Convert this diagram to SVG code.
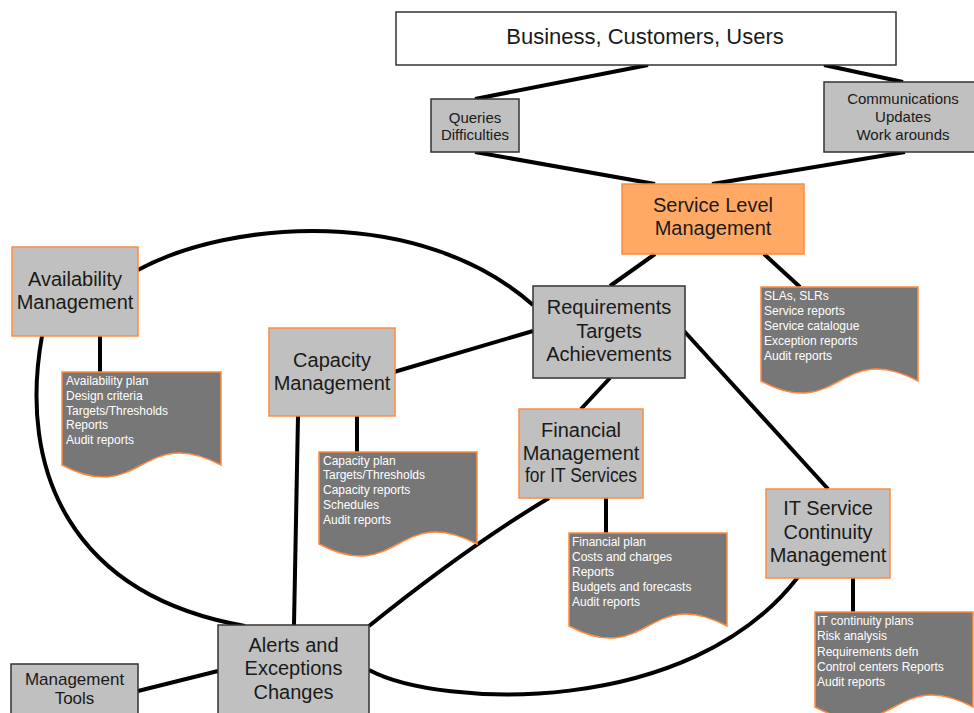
<svg xmlns="http://www.w3.org/2000/svg" width="974" height="713" viewBox="0 0 974 713">
<style>
.gb{fill:#c0c0c0;stroke:#333;stroke-width:1.5}
.ob{fill:#c0c0c0;stroke:#ff8a3d;stroke-width:1.5}
.sl{fill:#ffa964;stroke:#ff8a3d;stroke-width:1.5}
.wb{fill:#fff;stroke:#333;stroke-width:1.5}
.doc{fill:#777;stroke:#ff8a3d;stroke-width:1.5}
.t{font-family:"Liberation Sans",Arial,sans-serif;fill:#1a1a1a;text-anchor:middle}
.big{font-size:20px}
.sm{font-size:15px}
.dt{font-family:"Liberation Sans",Arial,sans-serif;font-size:12px;fill:#fff}
.c{fill:none;stroke:#000;stroke-width:4}
</style>
<rect width="974" height="713" fill="#fff"/>
<g id="connectors">
<path class="c" d="M648,65 L475,99"/>
<path class="c" d="M824,65 L903,82"/>
<path class="c" d="M475,152 L655,184"/>
<path class="c" d="M905,152 L712,184"/>
<path class="c" d="M655,254 L610,286"/>
<path class="c" d="M764,254 L800,287"/>
<path class="c" d="M138,270 C230,220 420,205 533,305"/>
<path class="c" d="M42,336 C18,470 70,595 245,626"/>
<path class="c" d="M100,336 L100,372"/>
<path class="c" d="M394,372 L533,331"/>
<path class="c" d="M357,416 L357,452"/>
<path class="c" d="M298,416 L294,625"/>
<path class="c" d="M610,378 L581,409"/>
<path class="c" d="M684,331 L828,489"/>
<path class="c" d="M606,498 L606,533"/>
<path class="c" d="M549,498 Q470,545 369,626"/>
<path class="c" d="M853,578 L853,612"/>
<path class="c" d="M369,670 C440,708 690,718 798,577"/>
<path class="c" d="M138,691 L218,671"/>
</g>
<g id="business">
<rect class="wb" x="396" y="12" width="500" height="53"/>
<text class="t" x="645" y="44" font-size="22">Business, Customers, Users</text>
</g>
<g id="queries">
<rect class="gb" x="431" y="99" width="88" height="53"/>
<text class="t sm" x="475" y="122.5">Queries</text>
<text class="t sm" x="475" y="139.5">Difficulties</text>
</g>
<g id="communications">
<rect class="gb" x="824" y="82" width="160" height="70"/>
<text class="t sm" x="903" y="103.5">Communications</text>
<text class="t sm" x="903" y="122">Updates</text>
<text class="t sm" x="903" y="139.5">Work arounds</text>
</g>
<g id="slm">
<rect class="sl" x="622" y="184" width="182" height="70"/>
<text class="t big" x="713" y="212">Service Level</text>
<text class="t big" x="713" y="235">Management</text>
</g>
<g id="sla-doc">
<path class="doc" d="M761,287 H918 V381 C839.5,339 839.5,423 761,381 Z"/>
<text class="dt" x="764" y="300">SLAs, SLRs</text>
<text class="dt" x="764" y="315">Service reports</text>
<text class="dt" x="764" y="330">Service catalogue</text>
<text class="dt" x="764" y="345">Exception reports</text>
<text class="dt" x="764" y="360">Audit reports</text>
</g>
<g id="availability">
<rect class="ob" x="12" y="247" width="126" height="89"/>
<text class="t big" x="75" y="286">Availability</text>
<text class="t big" x="75" y="309">Management</text>
</g>
<g id="availability-doc">
<path class="doc" d="M62,372 H221 V465 C141.5,423 141.5,507 62,465 Z"/>
<text class="dt" x="66" y="385">Availability plan</text>
<text class="dt" x="66" y="400">Design criteria</text>
<text class="dt" x="66" y="415">Targets/Thresholds</text>
<text class="dt" x="66" y="429">Reports</text>
<text class="dt" x="66" y="444">Audit reports</text>
</g>
<g id="capacity">
<rect class="ob" x="269" y="328" width="126" height="88"/>
<text class="t big" x="332" y="367">Capacity</text>
<text class="t big" x="332" y="390">Management</text>
</g>
<g id="capacity-doc">
<path class="doc" d="M319,452 H477 V544 C398,502 398,586 319,544 Z"/>
<text class="dt" x="323" y="465">Capacity plan</text>
<text class="dt" x="323" y="479">Targets/Thresholds</text>
<text class="dt" x="323" y="494">Capacity reports</text>
<text class="dt" x="323" y="509">Schedules</text>
<text class="dt" x="323" y="524">Audit reports</text>
</g>
<g id="requirements">
<rect class="gb" x="533" y="286" width="152" height="92"/>
<text class="t big" x="609" y="314">Requirements</text>
<text class="t big" x="609" y="338">Targets</text>
<text class="t big" x="609" y="361">Achievements</text>
</g>
<g id="financial">
<rect class="ob" x="519" y="409" width="124" height="89"/>
<text class="t big" x="581" y="437">Financial</text>
<text class="t big" x="581" y="460">Management</text>
<text class="t big" x="581" y="482" textLength="112" lengthAdjust="spacingAndGlyphs">for IT Services</text>
</g>
<g id="financial-doc">
<path class="doc" d="M569,533 H727 V626 C648,584 648,668 569,626 Z"/>
<text class="dt" x="572" y="546">Financial plan</text>
<text class="dt" x="572" y="561">Costs and charges</text>
<text class="dt" x="572" y="576">Reports</text>
<text class="dt" x="572" y="591">Budgets and forecasts</text>
<text class="dt" x="572" y="606">Audit reports</text>
</g>
<g id="itscm">
<rect class="ob" x="766" y="489" width="124" height="89"/>
<text class="t big" x="828" y="515">IT Service</text>
<text class="t big" x="828" y="539">Continuity</text>
<text class="t big" x="828" y="562">Management</text>
</g>
<g id="itscm-doc">
<path class="doc" d="M815,612 H973 V707 C894,665 894,749 815,707 Z"/>
<text class="dt" x="817" y="625">IT continuity plans</text>
<text class="dt" x="817" y="640">Risk analysis</text>
<text class="dt" x="817" y="656">Requirements defn</text>
<text class="dt" x="817" y="671">Control centers Reports</text>
<text class="dt" x="817" y="686">Audit reports</text>
</g>
<g id="alerts">
<rect class="gb" x="218" y="625" width="151" height="100"/>
<text class="t big" x="293.5" y="652">Alerts and</text>
<text class="t big" x="293.5" y="675">Exceptions</text>
<text class="t big" x="293.5" y="699">Changes</text>
</g>
<g id="management-tools">
<rect class="gb" x="11" y="664" width="127" height="60"/>
<text class="t" x="74.5" y="685" font-size="17">Management</text>
<text class="t" x="74.5" y="704" font-size="17">Tools</text>
</g>
</svg>
